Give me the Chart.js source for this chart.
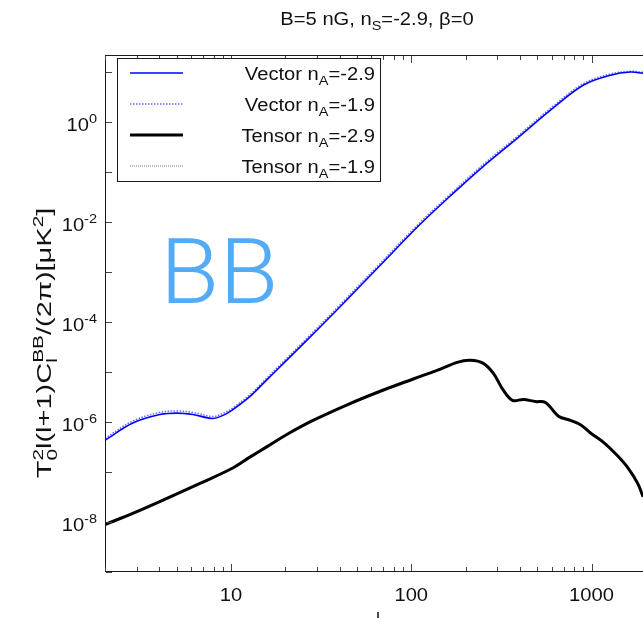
<!DOCTYPE html>
<html>
<head>
<meta charset="utf-8">
<script src="https://cdn.jsdelivr.net/npm/chart.js@4.4.1/dist/chart.umd.min.js"></script>
<style>
  html, body { margin: 0; padding: 0; background: #fff; }
  #wrap { width: 643px; height: 618px; }
</style>
</head>
<body>
<div id="wrap"><canvas id="chart" width="643" height="618"></canvas></div>
<script>
// multipole l for the vector curves
const ellVector = [2, 2.85, 4.03, 5.01, 6.15, 7.94, 9.03, 10.1, 12.8, 15.1, 20, 26.4, 40.3, 67.3,
  112, 164.6, 251, 388, 592, 903, 1276, 1648, 1930];
const vectorA29 = [4.3e-7, 9.5e-7, 1.4e-6, 1.5e-6, 1.4e-6, 1.17e-6, 1.35e-6, 1.7e-6, 3.27e-6, 5.9e-6,
  1.6e-5, 4.3e-5, 2.0e-4, 1.35e-3, 8.9e-3, 0.0327, 0.128, 0.47, 1.7, 5.4, 8.5, 9.8, 9.3];
const vectorA19 = [4.7e-7, 1.04e-6, 1.55e-6, 1.65e-6, 1.55e-6, 1.28e-6, 1.48e-6, 1.85e-6, 3.55e-6, 6.4e-6,
  1.75e-5, 4.7e-5, 2.2e-4, 1.48e-3, 9.7e-3, 0.0355, 0.14, 0.51, 1.85, 5.8, 9.0, 10.2, 9.7];

// multipole l for the tensor curves
const ellTensor = [2, 2.85, 4.41, 6.73, 10.1, 12.8, 15.85, 20.4, 28.5, 44.1, 67.3, 102.6, 139,
  180, 212, 251, 285.6, 324, 364, 419, 489, 555, 656, 765, 869, 987, 1166, 1394, 1585, 1803, 1930];
const tensorA29 = [8.9e-9, 1.48e-8, 2.95e-8, 5.9e-8, 1.17e-7, 2.0e-7, 3.2e-7, 5.6e-7, 1.07e-6,
  2.2e-6, 4.1e-6, 7.2e-6, 1.07e-5, 1.55e-5, 1.7e-5, 1.48e-5, 9.3e-6, 4.3e-6, 2.7e-6, 2.8e-6, 2.55e-6,
  2.45e-6, 1.3e-6, 1.07e-6, 8.8e-7, 6.0e-7, 3.9e-7, 2.1e-7, 1.23e-7, 5.9e-8, 3.2e-8];
const tensorA19 = [8.9e-9, 1.48e-8, 2.95e-8, 5.9e-8, 1.17e-7, 2.0e-7, 3.2e-7, 5.6e-7, 1.07e-6,
  2.2e-6, 4.1e-6, 7.2e-6, 1.07e-5, 1.55e-5, 1.7e-5, 1.48e-5, 9.3e-6, 4.3e-6, 2.7e-6, 2.8e-6, 2.55e-6,
  2.45e-6, 1.3e-6, 1.07e-6, 8.8e-7, 6.0e-7, 3.9e-7, 2.1e-7, 1.23e-7, 5.9e-8, 3.2e-8];

const seriesLabels = ["Vector n_{A}=-2.9", "Vector n_{A}=-1.9", "Tensor n_{A}=-2.9", "Tensor n_{A}=-1.9"];

// ticks
const xTickValues = [2, 3, 4, 5, 6, 7, 8, 9, 10, 20, 30, 40, 50, 60, 70, 80, 90,
  100, 200, 300, 400, 500, 600, 700, 800, 900, 1000];
const xTickLabels = { 10: "10", 100: "100", 1000: "1000" };
const yTickValues = [1e-9, 1e-8, 1e-7, 1e-6, 1e-5, 1e-4, 1e-3, 1e-2, 1e-1, 1, 10];
const yLabelExps = [0, -2, -4, -6, -8];

const titleText = "B=5 nG, n_{S}=-2.9, β=0";
const yAxisTitle = "T_{0}^{2}l(l+1)C_{l}^{BB}/(2π)[μK^{2}]";
const xAxisTitle = "l";
const panelTag = "BB";

const FONT = "'Liberation Sans', Arial, sans-serif";
const SX = 1.12; // text runs a bit wide in the reference

function pts(xs, ys) {
  return xs.map((x, i) => ({ x: x, y: ys[i] }));
}

// split "n_{A}" style strings into normal / sub / sup pieces
function tokens(str) {
  const out = [];
  const re = /([_^])\{([^}]*)\}/g;
  let last = 0, m;
  while ((m = re.exec(str))) {
    if (m.index > last) out.push({ t: str.slice(last, m.index), m: "n" });
    out.push({ t: m[2], m: m[1] === "_" ? "sub" : "sup" });
    last = re.lastIndex;
  }
  if (last < str.length) out.push({ t: str.slice(last), m: "n" });
  return out;
}

function layoutRich(ctx, str, size, sx) {
  const toks = tokens(str);
  const pieces = [];
  let x = 0;
  for (let i = 0; i < toks.length; i++) {
    const k = toks[i];
    const s = k.m === "n" ? size : size * 0.72;
    const font = s + "px " + FONT;
    ctx.font = font;
    const w = ctx.measureText(k.t).width * sx;
    const dy = k.m === "sub" ? size * 0.3 : k.m === "sup" ? -size * 0.42 : 0;
    pieces.push({ t: k.t, x: x, dy: dy, font: font });
    const nx = toks[i + 1];
    if (k.m === "sub" && nx && nx.m === "sup") {
      ctx.font = font;
      const w2 = ctx.measureText(nx.t).width * sx;
      pieces.push({ t: nx.t, x: x, dy: -size * 0.42, font: font });
      x += Math.max(w, w2);
      i++;
    } else {
      x += w;
    }
  }
  return { pieces: pieces, width: x };
}

function drawRich(ctx, str, x, y, size, align, sx) {
  sx = sx || SX;
  const lay = layoutRich(ctx, str, size, sx);
  let x0 = x;
  if (align === "center") x0 = x - lay.width / 2;
  if (align === "right") x0 = x - lay.width;
  ctx.textAlign = "left";
  ctx.textBaseline = "alphabetic";
  lay.pieces.forEach(p => {
    ctx.save();
    ctx.font = p.font;
    ctx.translate(x0 + p.x, y + p.dy);
    ctx.scale(sx, 1);
    ctx.fillText(p.t, 0, 0);
    ctx.restore();
  });
}

const frame = {
  id: "frame",
  afterDraw(chart) {
    const ctx = chart.ctx;
    const a = chart.chartArea;
    const xs = chart.scales.x, ys = chart.scales.y;
    const L = Math.round(a.left), T = Math.round(a.top), B = Math.round(a.bottom);
    ctx.save();
    ctx.setLineDash([]);
    ctx.globalAlpha = 1;

    // frame (right side runs off the canvas)
    ctx.fillStyle = "#1a1a1a";
    ctx.fillRect(L, T, 643 - L, 1);
    ctx.fillRect(L, T, 1, B - T);
    ctx.fillRect(L, B - 1, 643 - L, 1);

    // inward ticks, bottom and top
    ctx.fillStyle = "#444";
    xTickValues.forEach(v => {
      const px = Math.round(xs.getPixelForValue(v));
      const len = xTickLabels[v] ? 7 : 4;
      ctx.fillRect(px, B - 1 - len, 1, len);
      ctx.fillRect(px, T + 1, 1, len);
    });
    yTickValues.forEach(v => {
      const py = Math.round(ys.getPixelForValue(v));
      ctx.fillRect(L + 1, py, 6, 1);
    });

    ctx.fillStyle = "#111";
    // x labels
    xTickValues.forEach(v => {
      if (!xTickLabels[v]) return;
      drawRich(ctx, xTickLabels[v], xs.getPixelForValue(v), 601, 18, "center");
    });
    // y labels
    yLabelExps.forEach(e => {
      const py = ys.getPixelForValue(Math.pow(10, e));
      drawRich(ctx, "10^{" + e + "}", 97, py + 9, 18, "right");
    });

    // title
    drawRich(ctx, titleText, 377, 25, 18, "center");

    // x axis title (mostly below the visible frame)
    ctx.save();
    ctx.font = "18px " + FONT;
    ctx.textAlign = "center";
    ctx.textBaseline = "top";
    ctx.fillText(xAxisTitle, 378, 611);
    ctx.restore();

    // y axis title
    ctx.save();
    ctx.translate(51, 343);
    ctx.rotate(-Math.PI / 2);
    drawRich(ctx, yAxisTitle, 0, 0, 20, "center", 1.45);
    ctx.restore();

    // panel tag
    ctx.save();
    ctx.fillStyle = "#55aaf6";
    ctx.font = "300 91px Roboto, 'Liberation Sans', sans-serif";
    ctx.textAlign = "left";
    ctx.textBaseline = "alphabetic";
    ctx.translate(160, 303);
    ctx.scale(1.06, 1);
    ctx.fillText(panelTag, 0, 0);
    ctx.restore();

    // legend
    const lx0 = 117.5, ly0 = 58.5, lx1 = 380.5, ly1 = 181.5;
    ctx.fillStyle = "#fff";
    ctx.fillRect(lx0, ly0, lx1 - lx0, ly1 - ly0);
    ctx.strokeStyle = "#1a1a1a";
    ctx.lineWidth = 1;
    ctx.strokeRect(lx0, ly0, lx1 - lx0, ly1 - ly0);
    chart.data.datasets.forEach((ds, i) => {
      const yy = 73 + i * 31;
      ctx.save();
      ctx.strokeStyle = ds.borderColor;
      ctx.lineWidth = ds.borderWidth;
      ctx.setLineDash(ds.borderDash || []);
      ctx.beginPath();
      ctx.moveTo(130, yy);
      ctx.lineTo(183, yy);
      ctx.stroke();
      ctx.restore();
      ctx.fillStyle = "#111";
      drawRich(ctx, ds.label, 375, yy + 6.5, 18, "right");
    });
    ctx.restore();
  }
};

new Chart(document.getElementById("chart"), {
  type: "line",
  data: {
    datasets: [
      {
        label: seriesLabels[0],
        data: pts(ellVector, vectorA29),
        borderColor: "#0000ff",
        borderWidth: 1.6,
        order: 1,
      },
      {
        label: seriesLabels[1],
        data: pts(ellVector, vectorA19),
        borderColor: "#6a6aff",
        borderWidth: 1.5,
        borderDash: [1.5, 1.5],
        order: 2,
      },
      {
        label: seriesLabels[2],
        data: pts(ellTensor, tensorA29),
        borderColor: "#000000",
        borderWidth: 3,
        order: 3,
      },
      {
        label: seriesLabels[3],
        data: pts(ellTensor, tensorA19),
        borderColor: "#777777",
        borderWidth: 1,
        borderDash: [1, 1],
        order: 4,
      },
    ],
  },
  options: {
    responsive: false,
    animation: false,
    elements: {
      point: { radius: 0 },
      line: { tension: 0.35, fill: false },
    },
    layout: { padding: { top: 55, left: 0, right: 0, bottom: 0 } },
    plugins: {
      legend: { display: false },
      title: { display: false },
      tooltip: { enabled: false },
    },
    scales: {
      x: {
        type: "logarithmic",
        min: 2,
        max: 1930,
        ticks: { display: false },
        grid: { display: false },
        border: { display: false },
        afterFit: s => { s.height = 46; },
      },
      y: {
        type: "logarithmic",
        min: 1e-9,
        max: 21.5,
        ticks: { display: false },
        grid: { display: false },
        border: { display: false },
        afterFit: s => { s.width = 105; },
      },
    },
  },
  plugins: [frame],
});
</script>
</body>
</html>
